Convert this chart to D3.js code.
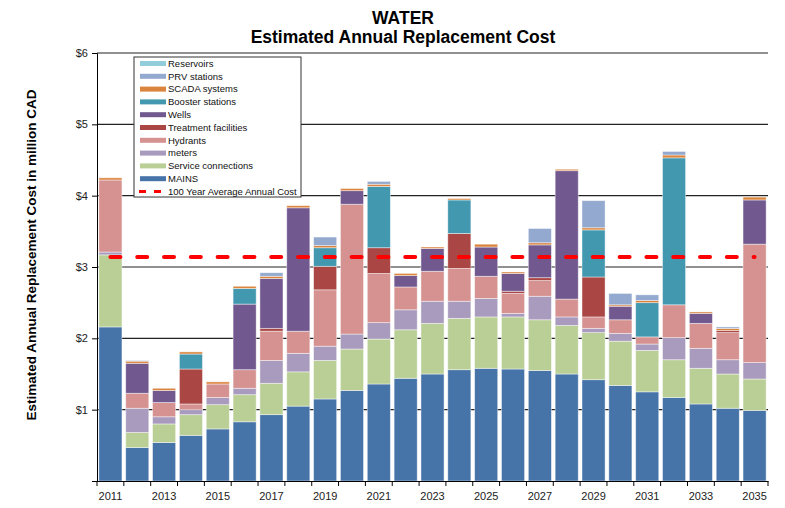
<!DOCTYPE html>
<html>
<head>
<meta charset="utf-8">
<script src="https://cdn.jsdelivr.net/npm/d3@7"></script>
<style>
  body { margin: 0; background: #fff; }
  text { font-family: Arial, "Liberation Sans", sans-serif; }
</style>
</head>
<body>
<svg width="785" height="508"></svg>
<script>
var years = d3.range(2011, 2036);

var mains      = [2.16,0.47,0.54,0.64,0.73,0.83,0.93,1.05,1.15,1.27,1.36,1.44,1.50,1.56,1.58,1.57,1.55,1.50,1.42,1.34,1.25,1.17,1.08,1.02,0.99];
var service    = [1.01,0.21,0.26,0.29,0.34,0.38,0.44,0.48,0.54,0.58,0.63,0.68,0.71,0.72,0.72,0.73,0.71,0.68,0.66,0.62,0.58,0.53,0.50,0.48,0.44];
var meters     = [0.04,0.34,0.10,0.07,0.10,0.09,0.32,0.26,0.20,0.21,0.23,0.28,0.31,0.24,0.26,0.05,0.33,0.12,0.06,0.11,0.09,0.31,0.28,0.20,0.23];
var hydrants   = [1.01,0.21,0.20,0.08,0.19,0.26,0.41,0.31,0.79,1.82,0.69,0.32,0.42,0.46,0.31,0.28,0.22,0.25,0.16,0.19,0.10,0.46,0.35,0.38,1.66];
var treatment  = [0,0,0,0.49,0,0,0.04,0,0.33,0,0.36,0,0,0.49,0,0.03,0.04,0,0.56,0,0,0,0,0.03,0];
var wells      = [0,0.42,0.17,0,0,0.92,0.70,1.73,0,0.19,0,0.16,0.32,0,0.41,0.25,0.46,1.80,0,0.19,0,0,0.14,0,0.62];
var booster    = [0,0,0,0.21,0,0.22,0,0,0.26,0,0.86,0,0,0.47,0,0,0,0,0.66,0,0.48,2.06,0,0,0];
var scada      = [0.03,0.03,0.03,0.03,0.03,0.03,0.03,0.03,0.03,0.03,0.03,0.03,0.02,0.02,0.04,0.02,0.03,0.02,0.03,0.02,0.03,0.04,0.02,0.03,0.04];
var prv        = [0,0.01,0,0,0,0,0.05,0,0.12,0,0.04,0,0,0,0,0,0.20,0,0.38,0.16,0.08,0.05,0,0.02,0];
var reservoirs = [0,0,0,0,0,0,0,0,0,0,0,0,0,0,0,0,0,0,0,0,0,0,0,0,0];

var avgCost = 3.14;
var yTicks = [0, 1, 2, 3, 4, 5, 6];

var seriesNames  = ["MAINS","Service connections","meters","Hydrants","Treatment facilities","Wells","Booster stations","SCADA systems","PRV stations","Reservoirs"];
var seriesValues = [mains, service, meters, hydrants, treatment, wells, booster, scada, prv, reservoirs];
var colors = ["#4673a8","#b9cf96","#a99bbd","#d59290","#aa4644","#71588f","#4198af","#db843d","#93a9cf","#92cddc"];

var table = years.map(function(yr, i) {
  var row = {year: yr};
  seriesNames.forEach(function(n, k) { row[n] = seriesValues[k][i]; });
  return row;
});

var svg = d3.select("svg"),
    margin = {top: 53, right: 17, bottom: 27, left: 97},
    width = +svg.attr("width") - margin.left - margin.right,
    height = +svg.attr("height") - margin.top - margin.bottom,
    g = svg.append("g").attr("transform", "translate(" + margin.left + "," + margin.top + ")");

var x = d3.scaleBand()
    .domain(years)
    .range([0, width])
    .paddingInner(0.14)
    .paddingOuter(0.07);

var y = d3.scaleLinear()
    .domain([0, 6])
    .range([height, 0]);

// gridlines
g.selectAll(".grid")
  .data(yTicks.filter(function(d) { return d > 0; }))
  .enter().append("line")
    .attr("x1", 0)
    .attr("x2", width)
    .attr("y1", function(d) { return y(d); })
    .attr("y2", function(d) { return y(d); })
    .attr("stroke", "#222")
    .attr("stroke-width", 1.2);

var stack = d3.stack().keys(seriesNames);

g.selectAll(".layer")
  .data(stack(table))
  .enter().append("g")
    .attr("fill", function(d, i) { return colors[i]; })
  .selectAll("rect")
  .data(function(d) { return d.filter(function(p) { return p[1] - p[0] > 0; }); })
  .enter().append("rect")
    .attr("x", function(d) { return x(d.data.year); })
    .attr("width", x.bandwidth())
    .attr("y", function(d) { return y(d[1]); })
    .attr("height", function(d) { return y(d[0]) - y(d[1]); })
    .attr("stroke", "rgba(255,255,255,0.55)")
    .attr("stroke-width", 0.8);

// 100 year average line
g.append("line")
  .attr("x1", x(years[0]) + x.bandwidth() / 2)
  .attr("x2", x(years[years.length - 1]) + x.bandwidth() / 2)
  .attr("y1", y(avgCost))
  .attr("y2", y(avgCost))
  .attr("stroke", "#ff0000")
  .attr("stroke-width", 4)
  .attr("stroke-linecap", "round")
  .attr("stroke-dasharray", "10,16.8");

// y axis
var yAxis = g.append("g")
  .call(d3.axisLeft(y).tickValues(yTicks).tickSize(5).tickFormat(function(d) { return d ? "$" + d : ""; }));
yAxis.select(".domain").attr("stroke", "#000");
yAxis.selectAll("text").attr("font-size", 11).attr("fill", "#222").attr("x", -9);

// x axis
var xAxis = g.append("g")
  .attr("transform", "translate(0," + height + ")")
  .call(d3.axisBottom(x).tickSize(0).tickFormat(function(d) { return d % 2 ? d : ""; }));
xAxis.select(".domain").attr("stroke", "#000");
xAxis.selectAll("text").attr("font-size", 11).attr("fill", "#222").attr("dy", "1.45em");

xAxis.selectAll(".bound")
  .data(d3.range(years.length + 1))
  .enter().append("line")
    .attr("x1", function(i) { return i * x.step(); })
    .attr("x2", function(i) { return i * x.step(); })
    .attr("y1", 0)
    .attr("y2", 5)
    .attr("stroke", "#000");

// titles
svg.append("text")
  .attr("x", 403).attr("y", 23.5)
  .attr("text-anchor", "middle")
  .attr("font-size", 17.5).attr("font-weight", "bold")
  .text("WATER");
svg.append("text")
  .attr("x", 403).attr("y", 42.5)
  .attr("text-anchor", "middle")
  .attr("font-size", 17.5).attr("font-weight", "bold")
  .text("Estimated Annual Replacement Cost");

svg.append("text")
  .attr("transform", "translate(36,255) rotate(-90)")
  .attr("text-anchor", "middle")
  .attr("font-size", 13.5).attr("font-weight", "bold")
  .text("Estimated Annual Replacement Cost in million CAD");

// legend
var legend = svg.append("g").attr("transform", "translate(134,57)");
legend.append("rect")
  .attr("width", 167).attr("height", 140)
  .attr("fill", "#fff").attr("stroke", "#333");

var legendItems = seriesNames.slice().reverse();
var legendColors = colors.slice().reverse();
var rowH = 12.8;

legend.selectAll(".sw")
  .data(legendItems)
  .enter().append("rect")
    .attr("x", 6).attr("y", function(d, i) { return 4 + i * rowH; })
    .attr("width", 26).attr("height", 5)
    .attr("fill", function(d, i) { return legendColors[i]; });

legend.selectAll(".lt")
  .data(legendItems.concat(["100 Year Average Annual Cost"]))
  .enter().append("text")
    .attr("x", 34).attr("y", function(d, i) { return 6.5 + i * rowH; })
    .attr("dy", "0.35em")
    .attr("font-size", 9.5)
    .attr("fill", "#111")
    .text(function(d) { return d; });

legend.append("line")
  .attr("x1", 5).attr("x2", 31)
  .attr("y1", 6.5 + 10 * rowH).attr("y2", 6.5 + 10 * rowH)
  .attr("stroke", "#ff0000").attr("stroke-width", 3)
  .attr("stroke-dasharray", "7,8");
</script>
</body>
</html>
